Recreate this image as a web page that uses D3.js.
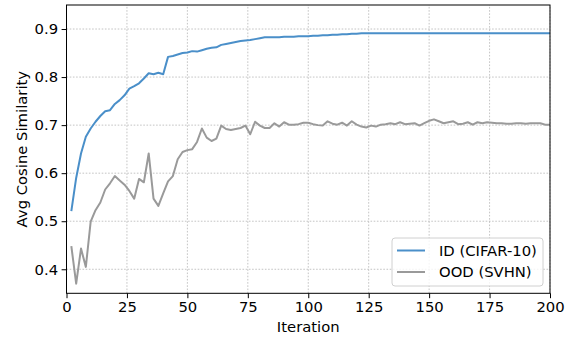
<!DOCTYPE html>
<html>
<head>
<meta charset="utf-8">
<script src="https://cdn.jsdelivr.net/npm/d3@7"></script>
<style>
  body { margin: 0; background: #fff; }
  svg { display: block; font-family: "DejaVu Sans", sans-serif; }
</style>
</head>
<body>
<svg id="chart" width="575" height="339"></svg>
<script>
"use strict";

// iterations 2, 4, ..., 200
var iterations = d3.range(2, 201, 2);

var idValues = [
    0.521, 0.590, 0.641, 0.676, 0.693, 0.707, 0.719, 0.729, 0.731, 0.744,
    0.752, 0.762, 0.776, 0.781, 0.787, 0.797, 0.808, 0.806, 0.809, 0.806,
    0.842, 0.844, 0.847, 0.850, 0.851, 0.854, 0.853, 0.856, 0.859, 0.861,
    0.862, 0.867, 0.869, 0.871, 0.873, 0.875, 0.876, 0.877, 0.879, 0.881,
    0.883, 0.883, 0.883, 0.883, 0.884, 0.884, 0.884, 0.885, 0.885, 0.885,
    0.886, 0.886, 0.887, 0.887, 0.888, 0.888, 0.889, 0.889, 0.890, 0.890,
    0.891, 0.891, 0.891, 0.891, 0.891, 0.891, 0.891, 0.891, 0.891, 0.891,
    0.891, 0.891, 0.891, 0.891, 0.891, 0.891, 0.891, 0.891, 0.891, 0.891,
    0.891, 0.891, 0.891, 0.891, 0.891, 0.891, 0.891, 0.891, 0.891, 0.891,
    0.891, 0.891, 0.891, 0.891, 0.891, 0.891, 0.891, 0.891, 0.891, 0.891
];

var oodValues = [
    0.448, 0.370, 0.443, 0.405, 0.499, 0.523, 0.539, 0.566, 0.579, 0.594,
    0.585, 0.576, 0.563, 0.547, 0.588, 0.581, 0.641, 0.547, 0.532, 0.558,
    0.583, 0.594, 0.629, 0.644, 0.648, 0.650, 0.665, 0.693, 0.674, 0.667,
    0.672, 0.699, 0.692, 0.690, 0.692, 0.694, 0.699, 0.681, 0.707, 0.699,
    0.694, 0.694, 0.704, 0.697, 0.706, 0.701, 0.701, 0.702, 0.705, 0.705,
    0.702, 0.700, 0.699, 0.708, 0.703, 0.701, 0.705, 0.699, 0.708, 0.701,
    0.697, 0.695, 0.699, 0.697, 0.701, 0.702, 0.704, 0.702, 0.706, 0.702,
    0.703, 0.704, 0.699, 0.704, 0.709, 0.712, 0.708, 0.704, 0.706, 0.708,
    0.702, 0.703, 0.706, 0.701, 0.706, 0.704, 0.706, 0.705, 0.704, 0.704,
    0.703, 0.703, 0.704, 0.704, 0.703, 0.704, 0.704, 0.704, 0.701, 0.701
];

var xTicks = [0, 25, 50, 75, 100, 125, 150, 175, 200];
var yTicks = [0.4, 0.5, 0.6, 0.7, 0.8, 0.9];

var series = [
    { name: "ID (CIFAR-10)", values: idValues, color: "#4a8fc9" },
    { name: "OOD (SVHN)", values: oodValues, color: "#9a9a9a" }
];

var fontSize = "14.8px";
var margin = { left: 66.5, right: 25, top: 5, bottom: 45.7 };
var width = 575, height = 339;

var svg = d3.select("#chart");

var x = d3.scaleLinear().domain([0, 200]).range([margin.left, width - margin.right]);
var y = d3.scaleLinear().domain([0.35, 0.95]).range([height - margin.bottom, margin.top]);

// grid
var grid = svg.append("g").attr("stroke", "#b5b5b5").attr("stroke-width", 0.8)
    .attr("stroke-dasharray", "1.6,1.6");
grid.selectAll(".gx").data(xTicks).enter().append("line")
    .attr("x1", function (d) { return x(d); }).attr("x2", function (d) { return x(d); })
    .attr("y1", y.range()[0]).attr("y2", y.range()[1]);
grid.selectAll(".gy").data(yTicks).enter().append("line")
    .attr("y1", function (d) { return y(d); }).attr("y2", function (d) { return y(d); })
    .attr("x1", x.range()[0]).attr("x2", x.range()[1]);

// lines
var line = d3.line()
    .x(function (d, i) { return x(iterations[i]); })
    .y(function (d) { return y(d); });

svg.append("g").selectAll("path").data(series).enter().append("path")
    .attr("fill", "none")
    .attr("stroke", function (d) { return d.color; })
    .attr("stroke-width", 2)
    .attr("stroke-linejoin", "round")
    .attr("d", function (d) { return line(d.values); });

// axes
var xAxis = svg.append("g")
    .attr("transform", "translate(0," + y.range()[0] + ")")
    .call(d3.axisBottom(x).tickValues(xTicks).tickSize(4.9).tickPadding(3.5).tickFormat(d3.format("d")));
var yAxis = svg.append("g")
    .attr("transform", "translate(" + x.range()[0] + ",0)")
    .call(d3.axisLeft(y).tickValues(yTicks).tickSize(4.9).tickPadding(3.5).tickFormat(d3.format(".1f")));

[xAxis, yAxis].forEach(function (ax) {
    ax.select(".domain").remove();
    ax.selectAll("line").attr("stroke", "#000").attr("stroke-width", 1);
    ax.selectAll("text").attr("font-size", fontSize).attr("fill", "#000")
        .attr("font-family", "DejaVu Sans, sans-serif");
});

// frame
svg.append("rect")
    .attr("x", x.range()[0]).attr("y", y.range()[1])
    .attr("width", x.range()[1] - x.range()[0])
    .attr("height", y.range()[0] - y.range()[1])
    .attr("fill", "none").attr("stroke", "#000").attr("stroke-width", 1);

// axis labels
svg.append("text")
    .attr("x", (x.range()[0] + x.range()[1]) / 2).attr("y", 332)
    .attr("text-anchor", "middle").attr("font-size", fontSize)
    .text("Iteration");
svg.append("text")
    .attr("transform", "translate(27," + (y.range()[0] + y.range()[1]) / 2 + ") rotate(-90)")
    .attr("text-anchor", "middle").attr("font-size", fontSize)
    .text("Avg Cosine Similarity");

// legend
var legend = svg.append("g").attr("transform", "translate(392,238)");
legend.append("rect")
    .attr("width", 151).attr("height", 48).attr("rx", 3)
    .attr("fill", "#fff").attr("fill-opacity", 0.8)
    .attr("stroke", "#d0d0d0").attr("stroke-width", 1);
var items = legend.selectAll(".item").data(series).enter().append("g")
    .attr("transform", function (d, i) { return "translate(0," + (12.5 + i * 21.5) + ")"; });
items.append("line")
    .attr("x1", 5).attr("x2", 33)
    .attr("stroke", function (d) { return d.color; }).attr("stroke-width", 2);
items.append("text")
    .attr("x", 47).attr("dy", "0.35em").attr("font-size", fontSize)
    .text(function (d) { return d.name; });
</script>
</body>
</html>
